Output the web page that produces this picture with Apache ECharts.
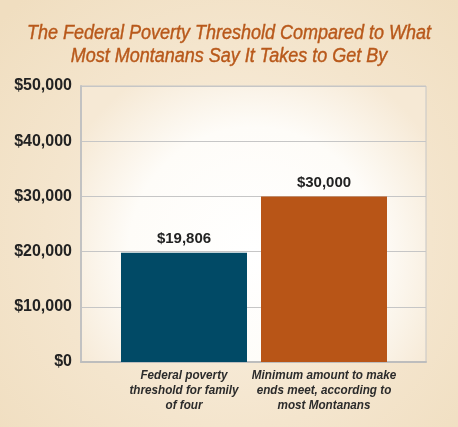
<!DOCTYPE html>
<html>
<head>
<meta charset="utf-8">
<script src="https://cdn.jsdelivr.net/npm/echarts@6/dist/echarts.min.js"></script>
<style>html,body{margin:0;padding:0;}#c{width:458px;height:427px;}</style>
</head>
<body>
<div id="c"></div>
<script>
var titleText = 'The Federal Poverty Threshold Compared to What\nMost Montanans Say It Takes to Get By';
var categories = ['Federal poverty\nthreshold for family\nof four', 'Minimum amount to make\nends meet, according to\nmost Montanans'];
var values = [19806, 30000];
var barColors = ['#014a66', '#b85517'];
var yMin = 0, yMax = 50000, yStep = 10000;

function money(v) {
  return '$' + String(v).replace(/\B(?=(\d{3})+(?!\d))/g, ',');
}

var chart = echarts.init(document.getElementById('c'));
chart.setOption({
  animation: false,
  backgroundColor: {
    type: 'radial', x: 0.52, y: 0.55, r: 0.75,
    colorStops: [{offset: 0, color: '#faf1e3'}, {offset: 0.6, color: '#f4e5cd'}, {offset: 1, color: '#f0dec0'}]
  },
  grid: [
    {left: 81, right: 32, top: 86, bottom: 65, show: true, borderColor: '#c6c6c6', borderWidth: 1,
     backgroundColor: {type: 'radial', x: 0.5, y: 0.6, r: 0.75,
       colorStops: [{offset: 0, color: '#ffffff'}, {offset: 0.6, color: '#fefcf8'}, {offset: 1, color: '#f6e9d5'}]}},
    {left: 114, right: 64, top: 86, bottom: 65}
  ],
  xAxis: [
    {gridIndex: 0, type: 'value', min: 0, max: 1, show: true,
     axisLine: {show: true, onZero: false, lineStyle: {color: '#bdbdbd', width: 2}},
     axisTick: {show: false}, axisLabel: {show: false}, splitLine: {show: false}},
    {gridIndex: 1, type: 'category', data: categories,
     axisLine: {show: false}, axisTick: {show: false}, axisLabel: {show: false}}
  ],
  yAxis: [
    {gridIndex: 0, type: 'value', min: yMin, max: yMax, interval: yStep,
     axisLine: {show: true, lineStyle: {color: '#c2c2c2', width: 2}},
     axisTick: {show: false},
     axisLabel: {margin: 9, formatter: money,
       fontFamily: '"Liberation Sans", Arial, sans-serif', fontSize: 16, fontWeight: 'bold', color: '#222'},
     splitLine: {show: true, lineStyle: {color: '#c6c6c6', width: 1}}},
    {gridIndex: 1, type: 'value', min: yMin, max: yMax, interval: yStep, show: false}
  ],
  series: [{
    type: 'bar', xAxisIndex: 1, yAxisIndex: 1,
    barWidth: 126,
    data: values.map(function (v, i) { return {value: v, itemStyle: {color: barColors[i]}}; }),
    label: {show: true, position: 'top', distance: 6, formatter: function (p) { return money(p.value); },
      fontFamily: '"Liberation Sans", Arial, sans-serif', fontSize: 15, fontWeight: 'bold', color: '#222'}
  }]
});

// Condensed text: title and category labels drawn as real text, horizontally compressed.
var graphics = [{
  type: 'text', x: 229, y: 22, scaleX: 0.9,
  style: {
    text: titleText, textAlign: 'center', textVerticalAlign: 'top',
    font: 'italic 20px "Liberation Sans", Arial, sans-serif',
    fill: '#b8581a', stroke: '#b8581a', lineWidth: 0.4, lineHeight: 23
  }
}];
var baseY = chart.convertToPixel({yAxisIndex: 1}, yMin);
categories.forEach(function (c, i) {
  var cx = chart.convertToPixel({xAxisIndex: 1}, i);
  graphics.push({
    type: 'text', x: cx, y: baseY + 6, scaleX: 0.9,
    style: {
      text: c, textAlign: 'center', textVerticalAlign: 'top',
      font: 'italic bold 13px "Liberation Sans", Arial, sans-serif',
      fill: '#2b2b2b', lineHeight: 15
    }
  });
});
chart.setOption({graphic: graphics});
</script>
</body>
</html>
